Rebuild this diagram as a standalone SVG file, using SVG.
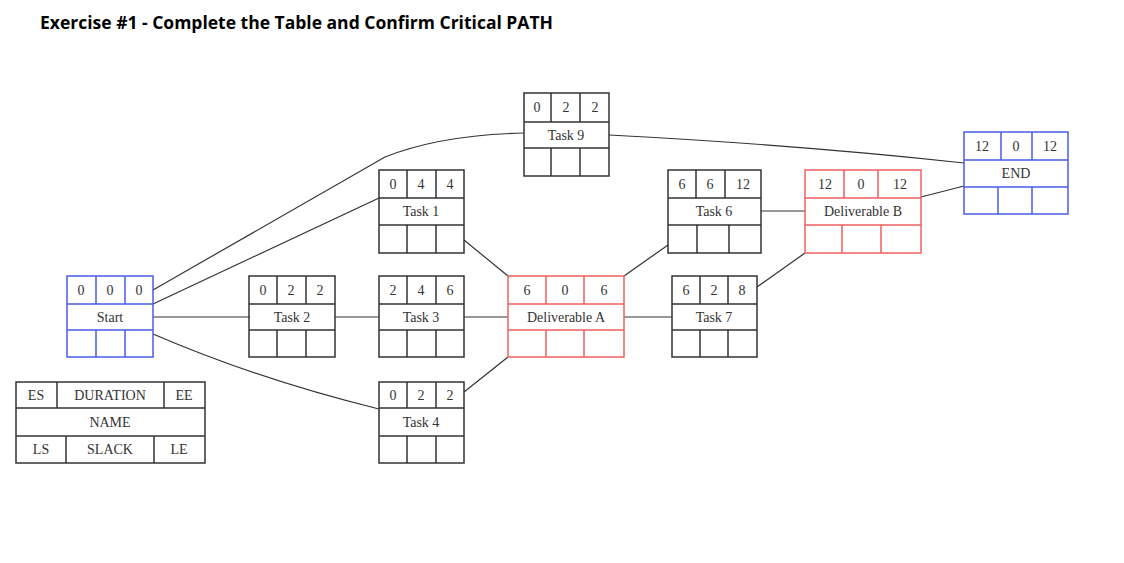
<svg xmlns="http://www.w3.org/2000/svg" width="1124" height="563" viewBox="0 0 1124 563">
<style>
.b{fill:none;stroke:#333;stroke-width:1.5}
.bl{fill:none;stroke:#4a5ee8;stroke-width:1.5}
.r{fill:none;stroke:#f06060;stroke-width:1.5}
.c{fill:none;stroke:#333;stroke-width:1.2}
text{font-family:"Liberation Serif",serif;font-size:14px;fill:#333;text-anchor:middle}
.t{font-family:"Open Sans","Liberation Sans",sans-serif;font-size:17.5px;font-weight:bold;fill:#000;text-anchor:start}
</style>
<rect width="1124" height="563" fill="#fff"/>
<text class="t" x="40" y="29">Exercise #1 - Complete the Table and Confirm Critical PATH</text>
<g id="connectors">
<path class="c" d="M153,290 L385,157 Q440,135 524,133"/>
<path class="c" d="M153,304 L379,198"/>
<path class="c" d="M153,317 L250,317 M335,317 L379,317 M464,317 L508,317"/>
<path class="c" d="M153,334 Q260,380 379,409"/>
<path class="c" d="M464,240 L508,276"/>
<path class="c" d="M464,392 L508,357"/>
<path class="c" d="M624,276 L668,245"/>
<path class="c" d="M624,317 L672,317"/>
<path class="c" d="M761,211 L805,211"/>
<path class="c" d="M757,287 L805,253"/>
<path class="c" d="M921,197 L964,186"/>
<path class="c" d="M609,135 Q800,145 964,163"/>
</g>
<g id="start">
<rect class="bl" x="67" y="276" width="86" height="81"/>
<path class="bl" d="M67,304H153M67,330H153M96,276V304M125,276V304M96,330V357M125,330V357"/>
<text x="81" y="295">0</text><text x="110" y="295">0</text><text x="139" y="295">0</text>
<text x="110" y="322">Start</text>
</g>
<g id="task1">
<rect class="b" x="379" y="170" width="85" height="83"/>
<path class="b" d="M379,198H464M379,225H464M407,170V198M436,170V198M407,225V253M436,225V253"/>
<text x="393" y="189">0</text><text x="421" y="189">4</text><text x="450" y="189">4</text>
<text x="421" y="216">Task 1</text>
</g>
<g id="task2">
<rect class="b" x="249" y="276" width="86" height="81"/>
<path class="b" d="M249,304H335M249,330H335M277,276V304M306,276V304M277,330V357M306,330V357"/>
<text x="263" y="295">0</text><text x="291" y="295">2</text><text x="320" y="295">2</text>
<text x="292" y="322">Task 2</text>
</g>
<g id="task3">
<rect class="b" x="379" y="276" width="85" height="81"/>
<path class="b" d="M379,304H464M379,330H464M407,276V304M436,276V304M407,330V357M436,330V357"/>
<text x="393" y="295">2</text><text x="421" y="295">4</text><text x="450" y="295">6</text>
<text x="421" y="322">Task 3</text>
</g>
<g id="task4">
<rect class="b" x="379" y="382" width="85" height="81"/>
<path class="b" d="M379,408H464M379,436H464M407,382V408M436,382V408M407,436V463M436,436V463"/>
<text x="393" y="400">0</text><text x="421" y="400">2</text><text x="450" y="400">2</text>
<text x="421" y="427">Task 4</text>
</g>
<g id="task9">
<rect class="b" x="524" y="93" width="85" height="83"/>
<path class="b" d="M524,122H609M524,148H609M551,93V122M580,93V122M551,148V176M580,148V176"/>
<text x="537" y="112">0</text><text x="566" y="112">2</text><text x="595" y="112">2</text>
<text x="566" y="140">Task 9</text>
</g>
<g id="delivA">
<rect class="r" x="508" y="276" width="116" height="81"/>
<path class="r" d="M508,304H624M508,330H624M546,276V304M584,276V304M546,330V357M584,330V357"/>
<text x="527" y="295">6</text><text x="565" y="295">0</text><text x="604" y="295">6</text>
<text x="566" y="322">Deliverable A</text>
</g>
<g id="task6">
<rect class="b" x="668" y="170" width="93" height="83"/>
<path class="b" d="M668,198H761M668,225H761M696,170V198M725,170V198M697,225V253M729,225V253"/>
<text x="682" y="189">6</text><text x="710" y="189">6</text><text x="743" y="189">12</text>
<text x="714" y="216">Task 6</text>
</g>
<g id="task7">
<rect class="b" x="672" y="276" width="85" height="81"/>
<path class="b" d="M672,304H757M672,330H757M700,276V304M728,276V304M700,330V357M728,330V357"/>
<text x="686" y="295">6</text><text x="714" y="295">2</text><text x="742" y="295">8</text>
<text x="714" y="322">Task 7</text>
</g>
<g id="delivB">
<rect class="r" x="805" y="170" width="116" height="83"/>
<path class="r" d="M805,198H921M805,225H921M844,170V198M878,170V198M842,225V253M881,225V253"/>
<text x="825" y="189">12</text><text x="861" y="189">0</text><text x="900" y="189">12</text>
<text x="863" y="216">Deliverable B</text>
</g>
<g id="end">
<rect class="bl" x="964" y="132" width="104" height="82"/>
<path class="bl" d="M964,160H1068M964,187H1068M1001,132V160M1032,132V160M998,187V214M1032,187V214"/>
<text x="982" y="151">12</text><text x="1016" y="151">0</text><text x="1050" y="151">12</text>
<text x="1016" y="178">END</text>
</g>
<g id="legend">
<rect class="b" x="16" y="382" width="189" height="81"/>
<path class="b" d="M16,408H205M16,436H205M57,382V408M164,382V408M66,436V463M154,436V463"/>
<text x="36" y="400">ES</text><text x="110" y="400">DURATION</text><text x="184" y="400">EE</text>
<text x="110" y="427">NAME</text>
<text x="41" y="454">LS</text><text x="110" y="454">SLACK</text><text x="179" y="454">LE</text>
</g>
</svg>
